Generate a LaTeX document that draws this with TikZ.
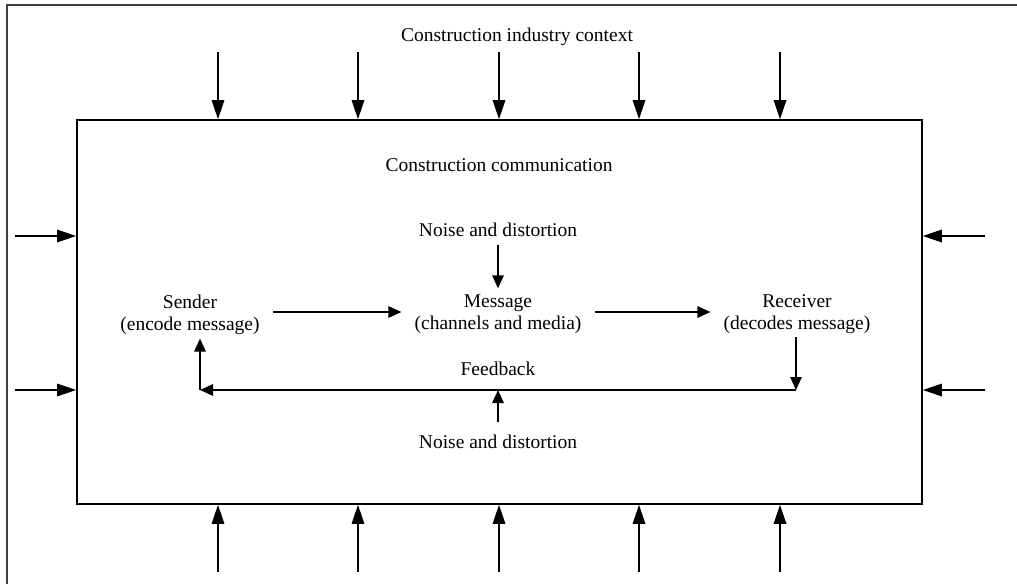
\documentclass[tikz,border=0pt]{standalone}
\usepackage{fontspec}
\setmainfont{Liberation Serif}
\usetikzlibrary{arrows.meta,calc}

\tikzset{
  frameline/.style={line width=1.8pt, draw=black!75},
  boxline/.style={line width=1.6pt, draw=black},
  outarrow/.style={line width=1.4pt, -{Triangle[length=19pt,width=12.5pt]}},
  inarrow/.style={line width=1.4pt, -{Triangle[length=13pt,width=11.5pt]}},
  lbl/.style={inner sep=0pt, font=\fontsize{19.5}{22}\selectfont},
  party/.style={lbl, align=center, inner xsep=13pt, inner ysep=0pt},
}

\begin{document}
\begin{tikzpicture}[x=1pt, y=-1pt]
\useasboundingbox (0,0) rectangle (1017,584);

% page frame (top and left edges)
\draw[frameline] (7,584) -- (7,5) -- (1017,5);

% communication box
\node[boxline, draw, minimum width=845pt, minimum height=384pt, inner sep=0pt]
  (comm) at (499.5,312) {};

% labels
\node[lbl, anchor=base] (ctx) at (517,41) {Construction industry context};
\node[lbl, anchor=base] (cc) at (499,171) {Construction communication};
\node[lbl, anchor=base] (noise1) at (498,236.7) {Noise and distortion};
\node[lbl, anchor=base] (noise2) at (498,448) {Noise and distortion};
\node[lbl, anchor=base] (fbtext) at (498,375) {Feedback};

\node[party] (sender) at (190,314.5) {Sender\\(encode message)};
\node[party] (message) at (498,314.5) {Message\\(channels and media)};
\node[party] (receiver) at (797,314.5) {Receiver\\(decodes message)};

% context arrows onto the box
\foreach \x [count=\i] in {218,358,499,639,780} {
  \coordinate (t\i) at (\x,52);
  \coordinate (b\i) at (\x,572);
  \draw[outarrow] (t\i) -- (t\i |- comm.north);
  \draw[outarrow] (b\i) -- (b\i |- comm.south);
}
\foreach \y [count=\i] in {236,390} {
  \coordinate (l\i) at (15,\y);
  \coordinate (r\i) at (985,\y);
  \draw[outarrow] (l\i) -- (comm.west |- l\i);
  \draw[outarrow] (r\i) -- (comm.east |- r\i);
}

% message flow
\draw[inarrow] ([yshift=2.5pt]sender.east) -- ([yshift=2.5pt]message.west);
\draw[inarrow] ([yshift=2.5pt]message.east) -- ([yshift=2.5pt]receiver.west);
\draw[inarrow, shorten <=8pt, shorten >=6.5pt] (noise1.south) -- (message.north);

% feedback loop
\coordinate (fbR) at (796,390);
\coordinate (fbL) at (200,390);
\coordinate (fbM) at (498,390);
\draw[inarrow, shorten <=3pt] (receiver.south -| fbR) -- (fbR);
\draw[inarrow] (fbR) -- (fbL);
\draw[inarrow] (fbL) -- ($(fbL |- sender.south)+(0,4)$);
\draw[inarrow, shorten <=12.5pt] (noise2.north) -- (fbM);
\end{tikzpicture}
\end{document}
